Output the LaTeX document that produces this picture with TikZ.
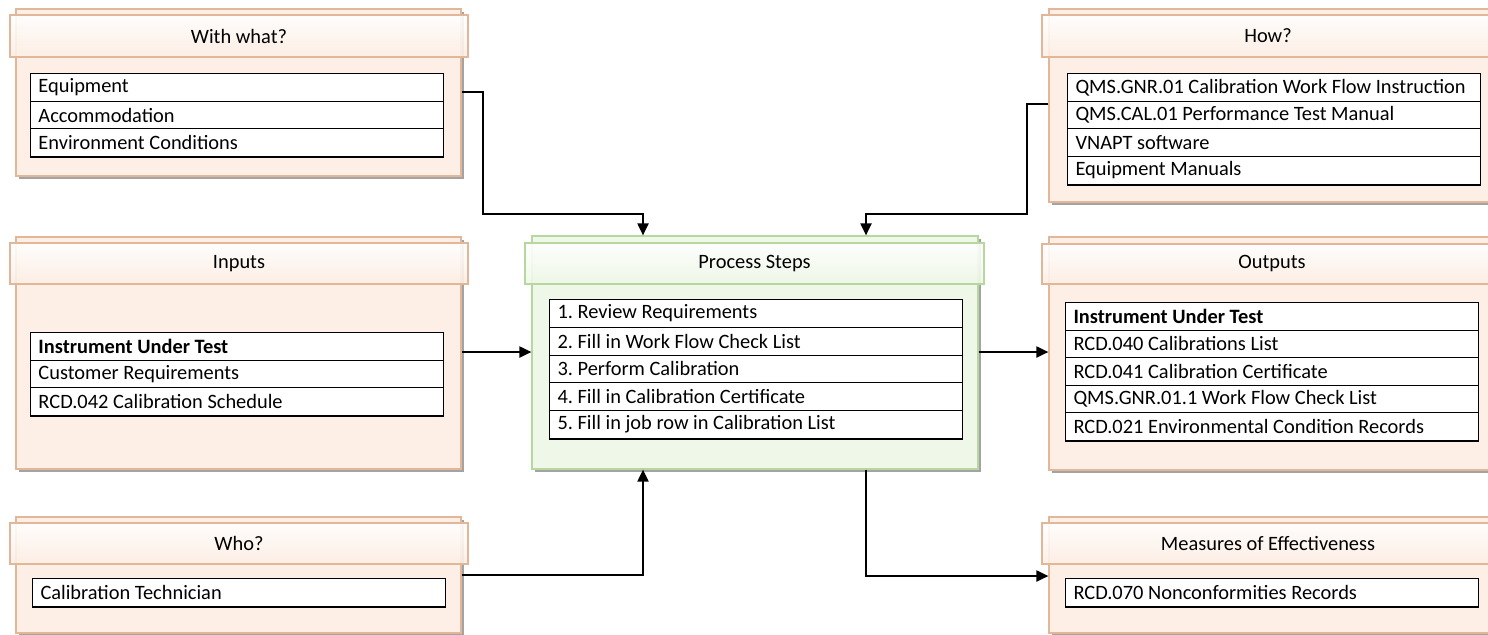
\documentclass[tikz,border=0pt]{standalone}
\usepackage{fontspec}
\setmainfont{Carlito}
\usetikzlibrary{arrows.meta,fit,shadows}
\frenchspacing

\definecolor{peachfill}{RGB}{253,239,229}
\definecolor{peachline}{RGB}{226,182,152}
\definecolor{peachtop}{RGB}{255,255,255}
\definecolor{peachbot}{RGB}{252,238,228}
\definecolor{greenfill}{RGB}{239,247,232}
\definecolor{greenline}{RGB}{182,216,158}
\definecolor{greentop}{RGB}{255,255,255}
\definecolor{greenbot}{RGB}{238,247,231}

\newcommand{\celltext}[1]{\makebox[198.5pt][l]{#1}}

\tikzset{
  boxshadow/.style={drop shadow={shadow xshift=1.5pt, shadow yshift=-1.5pt, fill=black!60, opacity=0.6}},
  panel/.style={draw=peachline, fill=peachfill, line width=0.6pt, inner sep=0pt, boxshadow},
  gpanel/.style={draw=greenline, fill=greenfill, line width=0.6pt, inner sep=0pt, boxshadow},
  headerbox/.style={draw=peachline, line width=0.6pt, top color=peachtop, bottom color=peachbot,
    fill opacity=0.9, inner sep=0pt},
  gheaderbox/.style={draw=greenline, line width=0.6pt, top color=greentop, bottom color=greenbot,
    fill opacity=0.9, inner sep=0pt},
  title/.style={inner sep=0pt},
  row/.style={draw=black, line width=0.5pt, fill=white, anchor=north west,
    inner xsep=4pt, inner ysep=0pt, minimum height=13.85pt},
  tablebase/.style={line width=1pt},
  conn/.style={draw=black, line width=1pt, -{Triangle[length=6pt,width=5.5pt]}},
}

\begin{document}
\begin{tikzpicture}[x=0.5pt, y=-0.5pt, font=\fontsize{10.2}{12}\selectfont]
\useasboundingbox (0,0) rectangle (1488,634);

% ---------- left column ----------
\node[panel, fit={(16,9)(461,176)}] (wwp) {};
\node[headerbox, fit={(10,15)(468,57)}] (wwh) {};
\node[title] (wwt) at (wwh.center) {With what?};
\foreach \t [count=\i] in {Equipment, Accommodation, Environment Conditions}
  \node[row] (ww\i) at (30,{73+(\i-1)*27.7}) {\celltext{\t}};
\draw[tablebase] (ww3.south west) -- (ww3.south east);

\node[panel, fit={(16,237)(461,469)}] (inp) {};
\node[headerbox, fit={(10,243)(468,284)}] (inh) {};
\node[title] (int) at (inh.center) {Inputs};
\foreach \t [count=\i] in {{\bfseries Instrument Under Test}, Customer Requirements, RCD.042 Calibration Schedule}
  \node[row] (in\i) at (30,{332+(\i-1)*27.7}) {\celltext{\t}};
\draw[tablebase] (in3.south west) -- (in3.south east);

\node[panel, fit={(16,517)(461,633)}] (whop) {};
\node[headerbox, fit={(10,523)(468,564)}] (whoh) {};
\node[title] (whot) at (whoh.center) {Who?};
\node[row] (who1) at (32,578) {\celltext{Calibration Technician}};
\draw[tablebase] (who1.south west) -- (who1.south east);

% ---------- centre ----------
\node[gpanel, fit={(532,236)(978,469)}] (prs) {};
\node[gheaderbox, fit={(525,243)(984,284)}] (prsh) {};
\node[title] (prst) at (prsh.center) {Process Steps};
\foreach \t [count=\i] in {1. Review Requirements, 2. Fill in Work Flow Check List, 3. Perform Calibration,
    4. Fill in Calibration Certificate, 5. Fill in job row in Calibration List}
  \node[row] (ps\i) at (549,{299+(\i-1)*27.8}) {\celltext{\t}};
\draw[tablebase] (ps5.south west) -- (ps5.south east);

% ---------- right column ----------
\node[panel, fit={(1049,9)(1495,202)}] (howp) {};
\node[headerbox, fit={(1042,15)(1502,57)}] (howh) {};
\node[title] (howt) at (1268,36) {How?};
\foreach \t [count=\i] in {QMS.GNR.01 Calibration Work Flow Instruction, QMS.CAL.01 Performance Test Manual,
    VNAPT software, Equipment Manuals}
  \node[row] (how\i) at (1067,{73+(\i-1)*27.6}) {\celltext{\t}};
\draw[tablebase] (how4.south west) -- (how4.south east);

\node[panel, fit={(1049,237)(1495,470)}] (outp) {};
\node[headerbox, fit={(1042,244)(1502,284)}] (outh) {};
\node[title] (outt) at (1272,264) {Outputs};
\foreach \t [count=\i] in {{\bfseries Instrument Under Test}, RCD.040 Calibrations List, RCD.041 Calibration Certificate,
    QMS.GNR.01.1 Work Flow Check List, RCD.021 Environmental Condition Records}
  \node[row] (out\i) at (1065,{302+(\i-1)*27.6}) {\celltext{\t}};
\draw[tablebase] (out5.south west) -- (out5.south east);

\node[panel, fit={(1049,517)(1495,633)}] (mep) {};
\node[headerbox, fit={(1042,523)(1502,564)}] (meh) {};
\node[title] (met) at (1268,544) {Measures of Effectiveness};
\node[row] (me1) at (1065,578) {\celltext{RCD.070 Nonconformities Records}};
\draw[tablebase] (me1.south west) -- (me1.south east);

% ---------- connectors ----------
\draw[conn] (wwp.east |- 0,92) -- (483,92) -- (483,214) -- (643,214) -- (prs.north -| 643,0);
\draw[conn] (howp.west |- 0,104) -- (1027,104) -- (1027,214) -- (866,214) -- (prs.north -| 866,0);
\draw[conn] (inp.east |- 0,352) -- (prs.west |- 0,352);
\draw[conn] (prs.east |- 0,352) -- (outp.west |- 0,352);
\draw[conn] (whop.east |- 0,575) -- (643,575) -- (prs.south -| 643,0);
\draw[conn] (prs.south -| 866,0) -- (866,576) -- (mep.west |- 0,576);
\end{tikzpicture}
\end{document}
